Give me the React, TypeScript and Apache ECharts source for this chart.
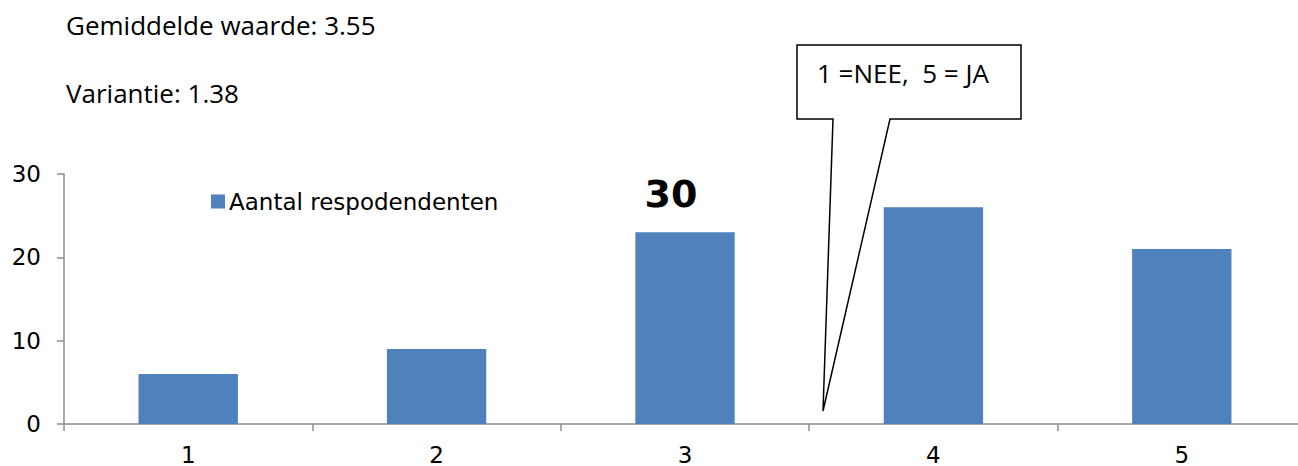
import React, { useEffect, useRef } from "react";
import * as echarts from "echarts";

const categories = ["1", "2", "3", "4", "5"];
const respondents = [6, 9, 23, 26, 21];
const yTicks = { min: 0, max: 30, interval: 10 };
const seriesName = "Aantal respodendenten";
const infoLines = ["Gemiddelde waarde: 3.55", "Variantie: 1.38"];
const calloutText = "1 =NEE,  5 = JA";
const highlightText = "30";

export default function App() {
  const ref = useRef<HTMLDivElement>(null);
  useEffect(() => {
    if (!ref.current) return;
    const chart = echarts.init(ref.current, undefined, { renderer: "svg" });
    const axisColor = "#8c8c8c";
    const labelFont = "DejaVu Sans";
    chart.setOption({
      animation: false,
      grid: { left: 64, top: 174, bottom: 39, right: 4 },
      legend: {
        data: [seriesName],
        left: 211,
        top: 190,
        padding: 0,
        icon: "rect",
        itemWidth: 14,
        itemHeight: 14,
        itemGap: 4,
        textStyle: { fontFamily: labelFont, fontSize: 23, color: "#000", padding: [0, 0, 0, -1] },
      },
      xAxis: {
        type: "category",
        data: categories,
        axisLine: { lineStyle: { color: axisColor, width: 1.5 } },
        axisTick: { show: true, length: 7, lineStyle: { color: axisColor, width: 1.5 } },
        axisLabel: { fontFamily: labelFont, fontSize: 23, color: "#000", margin: 19 },
      },
      yAxis: {
        type: "value",
        min: yTicks.min,
        max: yTicks.max,
        interval: yTicks.interval,
        splitLine: { show: false },
        axisLine: { show: true, lineStyle: { color: axisColor, width: 1.5 } },
        axisTick: { show: true, length: 7, lineStyle: { color: axisColor, width: 1.5 } },
        axisLabel: { fontFamily: labelFont, fontSize: 23, color: "#000", margin: 23 },
      },
      series: [
        {
          name: seriesName,
          type: "bar",
          data: respondents,
          barWidth: "40%",
          itemStyle: { color: "#4f81bd" },
        },
      ],
      graphic: [
        {
          type: "text",
          left: 66,
          top: 12,
          style: { text: infoLines[0], font: '26px "Open Sans"', fill: "#000" },
        },
        {
          type: "text",
          left: 66,
          top: 80,
          style: { text: infoLines[1], font: '26px "Open Sans"', fill: "#000" },
        },
        {
          type: "polygon",
          shape: {
            points: [
              [797, 45],
              [1021, 45],
              [1021, 119],
              [890, 119],
              [823, 411],
              [833, 119],
              [797, 119],
            ],
          },
          style: { fill: "#fff", stroke: "#000", lineWidth: 1.5 },
        },
        {
          type: "text",
          x: 817,
          y: 73,
          style: {
            text: calloutText,
            font: '26px "Open Sans"',
            fill: "#000",
            textVerticalAlign: "middle",
          },
        },
        {
          type: "text",
          x: 671,
          y: 194,
          style: {
            text: highlightText,
            font: 'bold 38px "DejaVu Sans"',
            fill: "#000",
            textAlign: "center",
            textVerticalAlign: "middle",
          },
        },
      ],
    });
    return () => chart.dispose();
  }, []);
  return (
    <div
      style={{ position: "absolute", left: 0, top: 0, width: 1298, height: 466, overflow: "hidden", background: "#fff" }}
    >
      <div ref={ref} style={{ width: 1310, height: 466 }} />
    </div>
  );
}
